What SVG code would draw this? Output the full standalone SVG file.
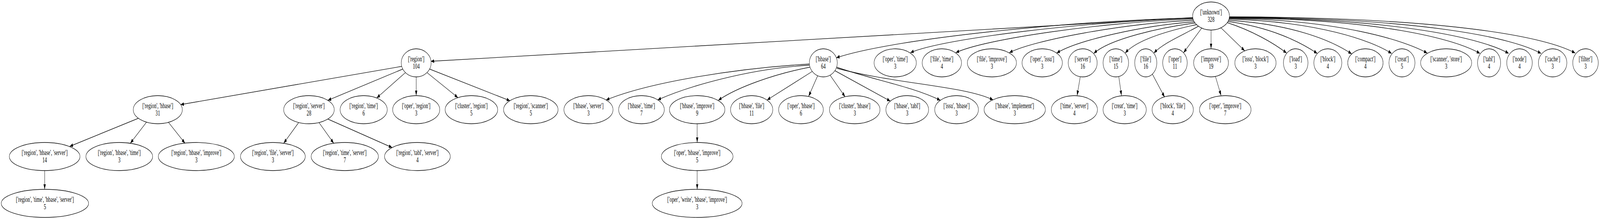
<svg xmlns="http://www.w3.org/2000/svg" width="6520" height="561" viewBox="0 0 6520 561" preserveAspectRatio="none">
<style>
svg:root{width:100vw;height:100vh;display:block}
.node ellipse{fill:none;stroke:#000;stroke-width:1.33}
.node text{font-family:"Liberation Serif","Times New Roman",serif;font-size:18.67px;text-anchor:middle;fill:#000}
#edges path{fill:none;stroke:#000;stroke-width:1.33;marker-end:url(#ah)}
</style>
<defs>
<marker id="ah" markerUnits="userSpaceOnUse" viewBox="0 0 13.3 9.4" markerWidth="13.3" markerHeight="9.4" refX="13.3" refY="4.7" orient="auto"><path d="M0,0 L13.3,4.7 L0,9.4 z" fill="#000"/></marker>
</defs>
<rect width="6520" height="561" fill="#fff"/>
<g id="edges">
<path d="M4861,45 L1756,157"/>
<path d="M4861,46 C4400,52 3650,97 3408,148"/>
<path d="M4861,47 C4450,54 3840,98 3710,135"/>
<path d="M4862,49 C4500,56 4010,100 3895,135"/>
<path d="M4863,52 C4580,60 4210,103 4113,135"/>
<path d="M4866,56 C4660,65 4390,103 4306,136"/>
<path d="M4870,59 C4730,70 4520,100 4457,137"/>
<path d="M4876,63 C4780,76 4635,100 4585,136"/>
<path d="M4884,67 C4820,90 4740,110 4702,136"/>
<path d="M4897,72 L4823,135"/>
<path d="M4935,77 L4935,125"/>
<path d="M4975,71 L5072,130"/>
<path d="M5001,58 C5100,78 5190,110 5243,136"/>
<path d="M5004,55 C5180,70 5300,108 5368,137"/>
<path d="M5006,52 C5270,62 5430,105 5508,138"/>
<path d="M5008,49 C5370,55 5590,104 5671,137"/>
<path d="M5009,47 C5450,51 5720,102 5816,136"/>
<path d="M5009,46 C5620,48 5930,100 6031,137"/>
<path d="M5010,45 C5700,47 6050,100 6148,137"/>
<path d="M5010,44 C5810,46 6170,98 6280,137"/>
<path d="M5010,43 C5920,45 6305,96 6419,136"/>
<path d="M1637,170 L736,268"/>
<path d="M1641,177 L1336,257"/>
<path d="M1652,186 L1535,251"/>
<path d="M1696,197 L1696,245"/>
<path d="M1740,186 L1866,250"/>
<path d="M1751,177 L2078,258"/>
<path d="M3298,164 C3000,175 2650,210 2470,256"/>
<path d="M3298,167 C3050,176 2800,222 2680,256"/>
<path d="M3301,172 C3150,190 3000,225 2927,257"/>
<path d="M3310,183 L3126,256"/>
<path d="M3332,194 L3295,247"/>
<path d="M3383,193 L3444,248"/>
<path d="M3402,181 L3628,259"/>
<path d="M3409,172 C3560,205 3720,222 3832,257"/>
<path d="M3410,175 C3650,215 3930,220 4047,256"/>
<path d="M4402,197 L4389,245"/>
<path d="M4559,196 L4570,245"/>
<path d="M4696,190 L4746,249"/>
<path d="M4953,196 L4976,245"/>
<path d="M564,303 L284,375"/>
<path d="M597,313 L531,367"/>
<path d="M686,313 L754,367"/>
<path d="M182,437 L182,485"/>
<path d="M1217,314 L1156,367"/>
<path d="M1300,314 L1360,367"/>
<path d="M1336,305 L1598,378"/>
<path d="M2841,317 L2841,365"/>
<path d="M2841,437 L2841,485"/>
</g>
<g id="n-unknown" class="node"><ellipse cx="4935" cy="41" rx="75" ry="36"/><text x="4935" y="37">['unknown']</text><text x="4935" y="56">328</text></g>
<g id="n-region" class="node"><ellipse cx="1696" cy="161" rx="61" ry="36"/><text x="1696" y="157">['region']</text><text x="1696" y="176">104</text></g>
<g id="n-hbase" class="node"><ellipse cx="3355" cy="161" rx="57" ry="36"/><text x="3355" y="157">['hbase']</text><text x="3355" y="176">64</text></g>
<g id="n-oper-time" class="node"><ellipse cx="3648" cy="161" rx="86" ry="36"/><text x="3648" y="157">['oper', 'time']</text><text x="3648" y="176">3</text></g>
<g id="n-file-time" class="node"><ellipse cx="3838" cy="161" rx="80" ry="36"/><text x="3838" y="157">['file', 'time']</text><text x="3838" y="176">4</text></g>
<g id="n-file-improve" class="node"><ellipse cx="4042" cy="161" rx="100" ry="36"/><text x="4042" y="157">['file', 'improve']</text><text x="4042" y="176">3</text></g>
<g id="n-oper-issu" class="node"><ellipse cx="4247" cy="161" rx="82" ry="36"/><text x="4247" y="157">['oper', 'issu']</text><text x="4247" y="176">3</text></g>
<g id="n-server" class="node"><ellipse cx="4412" cy="161" rx="59" ry="36"/><text x="4412" y="157">['server']</text><text x="4412" y="176">16</text></g>
<g id="n-time" class="node"><ellipse cx="4547" cy="161" rx="52" ry="36"/><text x="4547" y="157">['time']</text><text x="4547" y="176">15</text></g>
<g id="n-file" class="node"><ellipse cx="4669" cy="161" rx="45" ry="36"/><text x="4669" y="157">['file']</text><text x="4669" y="176">16</text></g>
<g id="n-oper" class="node"><ellipse cx="4788" cy="161" rx="50" ry="36"/><text x="4788" y="157">['oper']</text><text x="4788" y="176">11</text></g>
<g id="n-improve" class="node"><ellipse cx="4935" cy="161" rx="71" ry="36"/><text x="4935" y="157">['improve']</text><text x="4935" y="176">19</text></g>
<g id="n-issu-block" class="node"><ellipse cx="5116" cy="161" rx="84" ry="36"/><text x="5116" y="157">['issu', 'block']</text><text x="5116" y="176">3</text></g>
<g id="n-load" class="node"><ellipse cx="5280" cy="161" rx="50" ry="36"/><text x="5280" y="157">['load']</text><text x="5280" y="176">3</text></g>
<g id="n-block" class="node"><ellipse cx="5411" cy="161" rx="57" ry="36"/><text x="5411" y="157">['block']</text><text x="5411" y="176">4</text></g>
<g id="n-compact" class="node"><ellipse cx="5564" cy="161" rx="72" ry="36"/><text x="5564" y="157">['compact']</text><text x="5564" y="176">4</text></g>
<g id="n-creat" class="node"><ellipse cx="5713" cy="161" rx="53" ry="36"/><text x="5713" y="157">['creat']</text><text x="5713" y="176">5</text></g>
<g id="n-scanner-store" class="node"><ellipse cx="5893" cy="161" rx="104" ry="36"/><text x="5893" y="157">['scanner', 'store']</text><text x="5893" y="176">3</text></g>
<g id="n-tabl" class="node"><ellipse cx="6068" cy="161" rx="47" ry="36"/><text x="6068" y="157">['tabl']</text><text x="6068" y="176">4</text></g>
<g id="n-node" class="node"><ellipse cx="6192" cy="161" rx="52" ry="36"/><text x="6192" y="157">['node']</text><text x="6192" y="176">4</text></g>
<g id="n-cache" class="node"><ellipse cx="6327" cy="161" rx="58" ry="36"/><text x="6327" y="157">['cache']</text><text x="6327" y="176">3</text></g>
<g id="n-filter" class="node"><ellipse cx="6461" cy="161" rx="52" ry="36"/><text x="6461" y="157">['filter']</text><text x="6461" y="176">3</text></g>
<g id="n-region-hbase" class="node"><ellipse cx="643" cy="281" rx="100" ry="36"/><text x="643" y="277">['region', 'hbase']</text><text x="643" y="296">31</text></g>
<g id="n-region-server" class="node"><ellipse cx="1259" cy="281" rx="103" ry="36"/><text x="1259" y="277">['region', 'server']</text><text x="1259" y="296">28</text></g>
<g id="n-region-time" class="node"><ellipse cx="1482" cy="281" rx="96" ry="36"/><text x="1482" y="277">['region', 'time']</text><text x="1482" y="296">6</text></g>
<g id="n-oper-region" class="node"><ellipse cx="1696" cy="281" rx="96" ry="36"/><text x="1696" y="277">['oper', 'region']</text><text x="1696" y="296">3</text></g>
<g id="n-cluster-region" class="node"><ellipse cx="1921" cy="281" rx="107" ry="36"/><text x="1921" y="277">['cluster', 'region']</text><text x="1921" y="296">5</text></g>
<g id="n-region-scanner" class="node"><ellipse cx="2163" cy="281" rx="111" ry="36"/><text x="2163" y="277">['region', 'scanner']</text><text x="2163" y="296">5</text></g>
<g id="n-hbase-server" class="node"><ellipse cx="2398" cy="281" rx="100" ry="36"/><text x="2398" y="277">['hbase', 'server']</text><text x="2398" y="296">3</text></g>
<g id="n-hbase-time" class="node"><ellipse cx="2614" cy="281" rx="93" ry="36"/><text x="2614" y="277">['hbase', 'time']</text><text x="2614" y="296">7</text></g>
<g id="n-hbase-improve" class="node"><ellipse cx="2841" cy="281" rx="113" ry="36"/><text x="2841" y="277">['hbase', 'improve']</text><text x="2841" y="296">9</text></g>
<g id="n-hbase-file" class="node"><ellipse cx="3063" cy="281" rx="86" ry="36"/><text x="3063" y="277">['hbase', 'file']</text><text x="3063" y="296">11</text></g>
<g id="n-oper-hbase" class="node"><ellipse cx="3264" cy="281" rx="91" ry="36"/><text x="3264" y="277">['oper', 'hbase']</text><text x="3264" y="296">6</text></g>
<g id="n-cluster-hbase" class="node"><ellipse cx="3483" cy="281" rx="103" ry="36"/><text x="3483" y="277">['cluster', 'hbase']</text><text x="3483" y="296">3</text></g>
<g id="n-hbase-tabl" class="node"><ellipse cx="3697" cy="281" rx="87" ry="36"/><text x="3697" y="277">['hbase', 'tabl']</text><text x="3697" y="296">3</text></g>
<g id="n-issu-hbase" class="node"><ellipse cx="3898" cy="281" rx="89" ry="36"/><text x="3898" y="277">['issu', 'hbase']</text><text x="3898" y="296">3</text></g>
<g id="n-hbase-implement" class="node"><ellipse cx="4135" cy="281" rx="125" ry="36"/><text x="4135" y="277">['hbase', 'implement']</text><text x="4135" y="296">3</text></g>
<g id="n-time-server" class="node"><ellipse cx="4378" cy="281" rx="94" ry="36"/><text x="4378" y="277">['time', 'server']</text><text x="4378" y="296">4</text></g>
<g id="n-creat-time" class="node"><ellipse cx="4583" cy="281" rx="88" ry="36"/><text x="4583" y="277">['creat', 'time']</text><text x="4583" y="296">3</text></g>
<g id="n-block-file" class="node"><ellipse cx="4779" cy="281" rx="84" ry="36"/><text x="4779" y="277">['block', 'file']</text><text x="4779" y="296">4</text></g>
<g id="n-oper-improve" class="node"><ellipse cx="4993" cy="281" rx="105" ry="36"/><text x="4993" y="277">['oper', 'improve']</text><text x="4993" y="296">7</text></g>
<g id="n-region-hbase-server" class="node"><ellipse cx="182" cy="401" rx="144" ry="36"/><text x="182" y="397">['region', 'hbase', 'server']</text><text x="182" y="416">14</text></g>
<g id="n-region-hbase-time" class="node"><ellipse cx="486" cy="401" rx="136" ry="36"/><text x="486" y="397">['region', 'hbase', 'time']</text><text x="486" y="416">3</text></g>
<g id="n-region-hbase-improve" class="node"><ellipse cx="800" cy="401" rx="155" ry="36"/><text x="800" y="397">['region', 'hbase', 'improve']</text><text x="800" y="416">3</text></g>
<g id="n-region-file-server" class="node"><ellipse cx="1112" cy="401" rx="132" ry="36"/><text x="1112" y="397">['region', 'file', 'server']</text><text x="1112" y="416">3</text></g>
<g id="n-region-time-server" class="node"><ellipse cx="1405" cy="401" rx="137" ry="36"/><text x="1405" y="397">['region', 'time', 'server']</text><text x="1405" y="416">7</text></g>
<g id="n-region-tabl-server" class="node"><ellipse cx="1701" cy="401" rx="134" ry="36"/><text x="1701" y="397">['region', 'tabl', 'server']</text><text x="1701" y="416">4</text></g>
<g id="n-oper-hbase-improve" class="node"><ellipse cx="2841" cy="401" rx="146" ry="36"/><text x="2841" y="397">['oper', 'hbase', 'improve']</text><text x="2841" y="416">5</text></g>
<g id="n-region-time-hbase-server" class="node"><ellipse cx="183" cy="521" rx="178" ry="36"/><text x="183" y="517">['region', 'time', 'hbase', 'server']</text><text x="183" y="536">5</text></g>
<g id="n-oper-write-hbase-improve" class="node"><ellipse cx="2841" cy="521" rx="183" ry="36"/><text x="2841" y="517">['oper', 'write', 'hbase', 'improve']</text><text x="2841" y="536">3</text></g>
</svg>
